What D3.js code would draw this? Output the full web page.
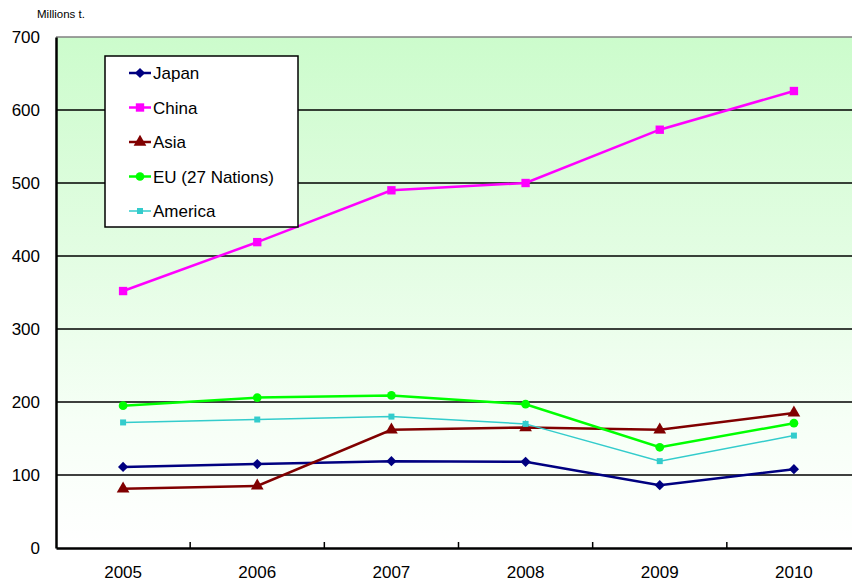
<!DOCTYPE html>
<html>
<head>
<meta charset="utf-8">
<script src="https://cdn.jsdelivr.net/npm/d3@7"></script>
<style>
body{margin:0;background:#fff;overflow:hidden}
text{font-family:Arial,"Liberation Sans",sans-serif;fill:#000}
</style>
</head>
<body>
<svg id="canvas" width="852" height="581"></svg>
<script>
let years=["2005","2006","2007","2008","2009","2010"]
let japan=[111,115,119,118,86,108]
let china=[352,419,490,500,573,626]
let asia=[81,85,162,165,162,185]
let eu=[195,206,209,197,138,171]
let america=[172,176,180,170,119,154]
let yticks=[0,100,200,300,400,500,600,700]

let series=[
    {name:"Japan",values:japan,color:"#000080",shape:d3.symbolSquare,size:52,rot:45,width:2.5},
    {name:"China",values:china,color:"#ff00ff",shape:d3.symbolSquare,size:70,rot:0,width:2.5},
    {name:"Asia",values:asia,color:"#800000",shape:d3.symbolTriangle,size:70,rot:0,width:2.5},
    {name:"EU (27 Nations)",values:eu,color:"#00ff00",shape:d3.symbolCircle,size:60,rot:0,width:2.5},
    {name:"America",values:america,color:"#33cccc",shape:d3.symbolSquare,size:36,rot:0,width:1.5}
]

let canvas=d3.select("#canvas")
const pleft=56,pright=861,ptop=37,pbottom=548

let x=d3.scaleBand().domain(years).range([pleft,pright])
let y=d3.scaleLinear().domain([0,700]).range([pbottom,ptop])

let defs=canvas.append("defs")
let grad=defs.append("linearGradient").attr("id","bg").attr("x1",0).attr("y1",0).attr("x2",0).attr("y2",1)
grad.append("stop").attr("offset","0%").attr("stop-color","#ccfccc")
grad.append("stop").attr("offset","45%").attr("stop-color","#e4fde4")
grad.append("stop").attr("offset","75%").attr("stop-color","#f6fff6")
grad.append("stop").attr("offset","100%").attr("stop-color","#ffffff")

canvas.append("rect")
    .attr("x",pleft).attr("y",ptop)
    .attr("width",pright-pleft).attr("height",pbottom-ptop)
    .attr("fill","url(#bg)")

// gridlines
canvas.selectAll(".grid")
    .data(yticks.filter(d=>d>0))
    .enter()
    .append("line")
    .attr("x1",pleft).attr("x2",pright)
    .attr("y1",d=>y(d)).attr("y2",d=>y(d))
    .attr("stroke",d=>d===700?"#808080":"#000")
    .attr("stroke-width",1.5)

// y axis
const yaxis=d3.axisLeft(y).tickValues(yticks).tickSize(0).tickPadding(16)
canvas.append("g").attr("transform",`translate(${pleft},0)`).call(yaxis)
    .call(g=>g.select(".domain").attr("stroke","#000").attr("stroke-width",2.5))
    .call(g=>g.selectAll("text").style("font-size","17px").attr("fill","#000"))

// x axis
const xaxis=d3.axisBottom(x).tickSize(0).tickPadding(18)
canvas.append("g").attr("transform",`translate(0,${pbottom})`).call(xaxis)
    .call(g=>g.select(".domain").attr("stroke","#000").attr("stroke-width",2.5))
    .call(g=>g.selectAll("text").style("font-size","17px").attr("fill","#000"))

// inner ticks between categories
canvas.selectAll(".xtick")
    .data(years.slice(1))
    .enter()
    .append("line")
    .attr("x1",d=>x(d)).attr("x2",d=>x(d))
    .attr("y1",pbottom).attr("y2",pbottom-6)
    .attr("stroke","#000").attr("stroke-width",1.5)

canvas.append("text")
    .attr("x",37).attr("y",18)
    .style("font-size","11.5px")
    .text("Millions t.")

let line=d3.line()
    .x((d,i)=>x(years[i])+x.bandwidth()/2)
    .y(d=>y(d))

series.forEach(s=>{
    canvas.append("path")
        .attr("d",line(s.values))
        .attr("fill","none")
        .attr("stroke",s.color)
        .attr("stroke-width",s.width)
    canvas.selectAll(null)
        .data(s.values)
        .enter()
        .append("path")
        .attr("d",d3.symbol().type(s.shape).size(s.size))
        .attr("transform",(d,i)=>`translate(${x(years[i])+x.bandwidth()/2},${y(d)}) rotate(${s.rot})`)
        .attr("fill",s.color)
})

// legend
let legend=canvas.append("g")
legend.append("rect")
    .attr("x",105).attr("y",56)
    .attr("width",193).attr("height",171)
    .attr("fill","#fff").attr("stroke","#000").attr("stroke-width",1.5)

series.forEach((s,i)=>{
    let ly=73+i*34.5
    legend.append("line")
        .attr("x1",129).attr("x2",151)
        .attr("y1",ly).attr("y2",ly)
        .attr("stroke",s.color).attr("stroke-width",s.width)
    legend.append("path")
        .attr("d",d3.symbol().type(s.shape).size(s.size))
        .attr("transform",`translate(140,${ly}) rotate(${s.rot})`)
        .attr("fill",s.color)
    legend.append("text")
        .attr("x",153).attr("y",ly+6)
        .style("font-size","17px")
        .text(s.name)
})
</script>
</body>
</html>
